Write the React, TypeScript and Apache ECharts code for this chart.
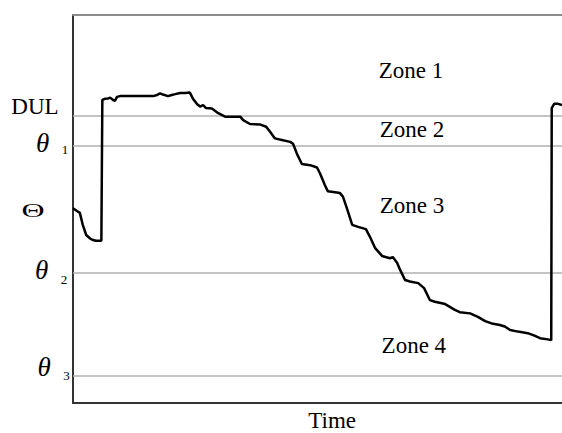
import React, { useEffect, useRef } from "react";
import * as echarts from "echarts";

// Time axis (0–100 % of the period) and soil water content (relative units)
const timeValues = [
  0, 0.8, 1.4, 2.0, 2.7, 3.5, 4.1, 4.7, 5.8, 6.0, 6.5, 7.2, 7.6, 8.2, 8.6, 9.0, 9.6,
  16.4, 17.2, 17.8, 18.4, 19.4, 20.2, 20.9, 21.9, 22.9, 23.9, 24.5, 25.4, 26.0, 26.6,
  27.2, 28.4, 29.7, 31.1, 34.2, 34.8, 36.2, 38.2, 39.5, 40.3, 41.3, 42.7, 44.4, 45.0,
  45.8, 46.8, 48.5, 49.9, 50.5, 51.5, 52.1, 53.6, 54.6, 55.2, 56.0, 57.1, 58.3, 59.9,
  60.7, 61.8, 63.2, 64.8, 65.4, 66.3, 66.9, 67.9, 68.9, 70.6, 71.8, 73.0, 74.0, 76.1,
  78.1, 79.1, 81.2, 82.8, 84.3, 85.9, 87.3, 88.3, 89.4, 91.0, 93.0, 94.5, 95.5, 97.1,
  97.8, 97.9, 98.4, 99.2, 100,
];
const thetaValues = [
  50.2, 49.5, 49.0, 45.9, 43.3, 42.4, 42.0, 41.8, 41.8, 78.1, 78.4, 78.5, 78.7, 78.1, 77.9, 78.9, 79.1,
  79.1, 79.4, 79.8, 79.5, 79.1, 79.4, 79.6, 79.9, 79.9, 80.0, 78.5, 77.0, 76.4, 76.8,
  76.0, 75.9, 74.7, 73.8, 73.8, 72.9, 71.9, 71.8, 71.2, 69.9, 68.2, 67.8, 67.3, 66.8,
  64.2, 61.6, 61.3, 60.7, 59.2, 56.2, 54.6, 54.3, 54.1, 53.2, 50.2, 45.9, 45.4, 44.8,
  42.9, 39.9, 37.9, 37.3, 37.6, 36.1, 34.3, 31.7, 31.3, 30.9, 29.6, 26.5, 26.1, 25.5,
  24.0, 23.4, 23.1, 22.2, 21.1, 20.4, 20.1, 19.7, 18.8, 18.4, 18.0, 17.3, 16.7, 16.4,
  16.2, 76.0, 77.1, 77.1, 76.8,
];

// Threshold levels: DUL, θ1, θ2, θ3
const thresholdNames = ["DUL", "1", "2", "3"];
const thresholdValues = [74.05, 66.4, 33.6, 7.0];

// Zone labels and their anchor points in data units
const zoneNames = ["Zone 1", "Zone 2", "Zone 3", "Zone 4"];
const zoneTime = [69.1, 69.3, 69.3, 69.7];
const zoneTheta = [85.8, 70.5, 50.9, 14.8];

const SERIF = "'Liberation Serif', 'Times New Roman', serif";

export default function App() {
  const ref = useRef<HTMLDivElement>(null);

  useEffect(() => {
    if (!ref.current) return;
    const chart = echarts.init(ref.current, undefined, { renderer: "svg" });

    const seriesData = timeValues.map((t, i) => [t, thetaValues[i]]);

    chart.setOption({
      animation: false,
      backgroundColor: "#ffffff",
      grid: { left: 73, right: 0, top: 15, bottom: 30 },
      xAxis: [
        {
          type: "value",
          min: 0,
          max: 100,
          axisLine: { show: true, lineStyle: { color: "#333", width: 2 } },
          axisTick: { show: false },
          axisLabel: { show: false },
          splitLine: { show: false },
        },
        {
          type: "value",
          position: "top",
          min: 0,
          max: 100,
          axisLine: { show: true, lineStyle: { color: "#8c8c8c", width: 2 } },
          axisTick: { show: false },
          axisLabel: { show: false },
          splitLine: { show: false },
        },
      ],
      yAxis: {
        type: "value",
        min: 0,
        max: 100,
        axisLine: { show: true, lineStyle: { color: "#333", width: 2 } },
        axisTick: { show: false },
        axisLabel: { show: false },
        splitLine: { show: false },
      },
      series: [
        {
          type: "line",
          data: seriesData,
          showSymbol: false,
          symbol: "none",
          lineStyle: { color: "#000", width: 2.5 },
          z: 3,
          markLine: {
            silent: true,
            symbol: "none",
            label: { show: false },
            lineStyle: { color: "#b0b0b0", width: 1.5, type: "solid" },
            data: thresholdValues.map((v) => ({ yAxis: v })),
            z: 1,
          },
        },
      ],
    });

    const px = (t: number, v: number) =>
      chart.convertToPixel({ xAxisIndex: 0, yAxisIndex: 0 }, [t, v]) as number[];
    const yPx = (v: number) => px(0, v)[1];

    const graphics: any[] = [];

    // Threshold labels on the left
    thresholdNames.forEach((name, i) => {
      const y = yPx(thresholdValues[i]);
      if (name === "DUL") {
        graphics.push({
          type: "text",
          x: 35,
          y: y - 9,
          style: {
            text: "DUL",
            font: `23px ${SERIF}`,
            fill: "#000",
            align: "center",
            verticalAlign: "middle",
          },
        });
      } else {
        const glyphDy = [-2, -3, -9][i - 1];
        const subDy = [4, 7, 0][i - 1];
        const glyphX = [42.5, 41.5, 44][i - 1];
        const subX = [65, 64, 66.5][i - 1];
        graphics.push({
          type: "text",
          x: glyphX,
          y: y + glyphDy,
          style: {
            text: "θ",
            font: `italic 27px ${SERIF}`,
            fill: "#000",
            align: "center",
            verticalAlign: "middle",
          },
        });
        graphics.push({
          type: "text",
          x: subX,
          y: y + subDy,
          style: {
            text: name,
            font: `13px ${SERIF}`,
            fill: "#000",
            align: "center",
            verticalAlign: "middle",
          },
        });
      }
    });

    // Zone labels
    zoneNames.forEach((name, i) => {
      const [x, y] = px(zoneTime[i], zoneTheta[i]);
      graphics.push({
        type: "text",
        x,
        y,
        style: {
          text: name,
          font: `23px ${SERIF}`,
          fill: "#000",
          align: "center",
          verticalAlign: "middle",
        },
      });
    });

    // Axis titles
    graphics.push({
      type: "text",
      x: px(53, 0)[0],
      y: 420,
      style: {
        text: "Time",
        font: `23px ${SERIF}`,
        fill: "#000",
        align: "center",
        verticalAlign: "middle",
      },
    });
    graphics.push({
      type: "text",
      x: 33,
      y: yPx(50) + 1,
      scaleX: 1.0,
      scaleY: 0.6,
      style: {
        text: "Θ",
        font: `32px ${SERIF}`,
        fill: "#000",
        align: "center",
        verticalAlign: "middle",
      },
    });

    chart.setOption({ graphic: graphics });

    return () => chart.dispose();
  }, []);

  return (
    <div
      ref={ref}
      style={{ position: "fixed", left: 0, top: 0, width: 562, height: 433 }}
    />
  );
}
